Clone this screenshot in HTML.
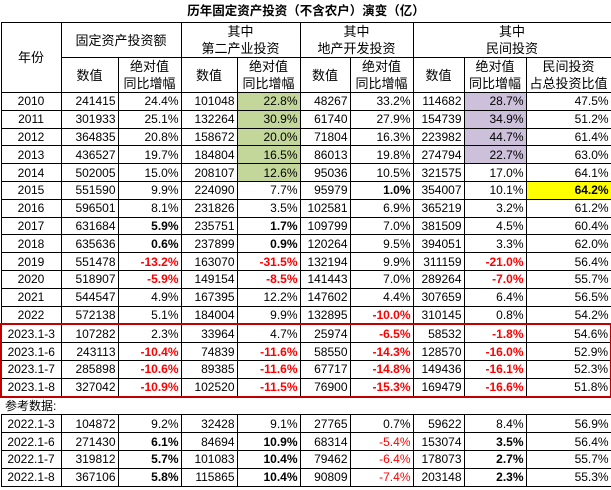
<!DOCTYPE html>
<html><head><meta charset="utf-8">
<style>
html,body{margin:0;padding:0;background:#fff;}
body{width:611px;height:490px;overflow:hidden;font-family:"Liberation Sans","Noto Sans CJK SC",sans-serif;font-size:12px;color:#000;}
table{border-collapse:collapse;table-layout:fixed;width:610px;}
td{border:1px solid #000;padding:0 2px;height:16.8px;line-height:16px;text-align:right;white-space:nowrap;overflow:hidden;}
td.c{text-align:center;}
.h td{text-align:center;font-size:13px;line-height:17px;}
.title td{height:22px;font-weight:bold;font-size:12.5px;text-align:center;border-top:none;border-left:none;border-right:none;}
.g{background:#c4d79b;}
.p{background:#ccc0da;}
.y{background:#ffff00;font-weight:bold;}
.b{font-weight:bold;}
.r{color:#ff0000;font-weight:bold;}
.rn{color:#ff0000;}
tr.rb td:first-child{border-left:2px solid #c00000;}
tr.rb td:last-child{border-right:2px solid #c00000;}
tr.rt td{border-top:2px solid #c00000;}
tr.rbot td{border-bottom:2px solid #c00000;}
td.ref{text-align:left;border-left:none;border-right:none;padding-left:4px;}
</style></head><body>
<table>
<colgroup><col style="width:60px"><col style="width:57px"><col style="width:63px"><col style="width:56px"><col style="width:63px"><col style="width:50px"><col style="width:63px"><col style="width:51px"><col style="width:62px"><col style="width:85px"></colgroup>
<tr class="title"><td colspan="10">历年固定资产投资（不含农户）演变（亿）</td></tr>
<tr class="h">
<td rowspan="2" style="height:66px">年份</td>
<td colspan="2" style="height:31px">固定资产投资额</td>
<td colspan="2">其中<br>第二产业投资</td>
<td colspan="2">其中<br>地产开发投资</td>
<td colspan="3">其中<br>民间投资</td></tr>
<tr class="h">
<td style="height:34px">数值</td><td>绝对值<br>同比增幅</td><td>数值</td><td>绝对值<br>同比增幅</td><td>数值</td><td>绝对值<br>同比增幅</td><td>数值</td><td>绝对值<br>同比增幅</td><td>民间投资<br>占总投资比值</td></tr>
<tbody id="body"></tbody>
</table>
<script>
const rows=[
["2010","241415","24.4%","101048","22.8%|g","48267","33.2%","114682","28.7%|p","47.5%"],
["2011","301933","25.1%","132264","30.9%|g","61740","27.9%","154739","34.9%|p","51.2%"],
["2012","364835","20.8%","158672","20.0%|g","71804","16.3%","223982","44.7%|p","61.4%"],
["2013","436527","19.7%","184804","16.5%|g","86013","19.8%","274794","22.7%|p","63.0%"],
["2014","502005","15.0%","208107","12.6%|g","95036","10.5%","321575","17.0%","64.1%"],
["2015","551590","9.9%","224090","7.7%","95979","1.0%|b","354007","10.1%","64.2%|y"],
["2016","596501","8.1%","231826","3.5%","102581","6.9%","365219","3.2%","61.2%"],
["2017","631684","5.9%|b","235751","1.7%|b","109799","7.0%","381509","4.5%","60.4%"],
["2018","635636","0.6%|b","237899","0.9%|b","120264","9.5%","394051","3.3%","62.0%"],
["2019","551478","-13.2%|r","163070","-31.5%|r","132194","9.9%","311159","-21.0%|r","56.4%"],
["2020","518907","-5.9%|r","149154","-8.5%|r","141443","7.0%","289264","-7.0%|r","55.7%"],
["2021","544547","4.9%","167395","12.2%","147602","4.4%","307659","6.4%","56.5%"],
["2022","572138","5.1%","184004","9.9%","132895","-10.0%|r","310145","0.8%","54.2%"],
["2023.1-3","107282","2.3%","33964","4.7%","25974","-6.5%|r","58532","-1.8%|r","54.6%","rb rt"],
["2023.1-6","243113","-10.4%|r","74839","-11.6%|r","58550","-14.3%|r","128570","-16.0%|r","52.9%","rb"],
["2023.1-7","285898","-10.6%|r","89385","-11.6%|r","67717","-14.8%|r","149436","-16.1%|r","52.3%","rb"],
["2023.1-8","327042","-10.9%|r","102520","-11.5%|r","76900","-15.3%|r","169479","-16.6%|r","51.8%","rb rbot"],
"ref",
["2022.1-3","104872","9.2%","32428","9.1%","27765","0.7%","59622","8.4%","56.9%"],
["2022.1-6","271430","6.1%|b","84694","10.9%|b","68314","-5.4%|rn","153074","3.5%|b","56.4%"],
["2022.1-7","319812","5.7%|b","101083","10.4%|b","79462","-6.4%|rn","178073","2.7%|b","55.7%"],
["2022.1-8","367106","5.8%|b","115865","10.4%|b","90809","-7.4%|rn","203148","2.3%|b","55.3%"]
];
const body=document.getElementById('body');
rows.forEach(r=>{
  const tr=document.createElement('tr');
  
  
  if(r==="ref"){
    const td=document.createElement('td');
    td.colSpan=10;td.className='ref';td.textContent='参考数据:';
    
    
    tr.appendChild(td);body.appendChild(tr);return;
  }
  if(r[10])tr.className=r[10];
  for(let i=0;i<10;i++){
    const td=document.createElement('td');
    const [v,cls]=r[i].split('|');
    td.textContent=v;
    let c=[];if(i===0)c.push('c');if(cls)c.push(cls);
    td.className=c.join(' ');
    
    
    tr.appendChild(td);
  }
  body.appendChild(tr);
});
</script>
</body></html>
